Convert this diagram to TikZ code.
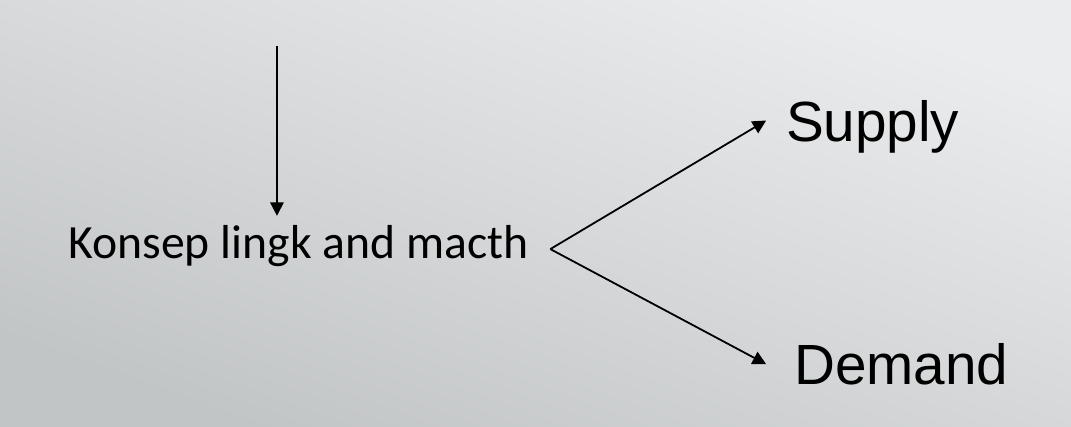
\documentclass[tikz,border=0pt]{standalone}
\usepackage{fontspec}
\newfontfamily\carl{Carlito}
\newfontfamily\arialf{Liberation Sans}
\usetikzlibrary{arrows.meta}
\definecolor{bgtop}{RGB}{235,236,237}
\definecolor{bgbot}{RGB}{194,197,198}
\tikzset{
  arr/.style={draw=black, line width=2pt, -{Triangle[length=15pt,width=15pt]}},
  konsep/.style={inner sep=0pt, anchor=base west, font=\carl\fontsize{53}{60}\selectfont},
  big/.style={inner sep=0pt, anchor=base west, font=\arialf\fontsize{63}{70}\selectfont}
}
\begin{document}
\begin{tikzpicture}[x=1pt,y=-1pt]
\shade[top color=bgtop, bottom color=bgbot, shading angle=-20] (-60,-40) rectangle (1131,434);
\useasboundingbox (0,0) rectangle (1071,394);
\node[konsep] (k) at (16,248) {Konsep lingk and macth};
\node[big] (s) at (814,117) {Supply};
\node[big] (d) at (823,388) {Demand};
\coordinate (top) at (248,11);
\coordinate (v) at (552,237);
\coordinate (st) at (792,94);
\coordinate (dt) at (792,365);
\draw[arr] (top) -- (top |- k.north) [shorten >=11pt];
\draw[arr] (v) -- (st);
\draw[arr] (v) -- (dt);
\end{tikzpicture}
\end{document}
